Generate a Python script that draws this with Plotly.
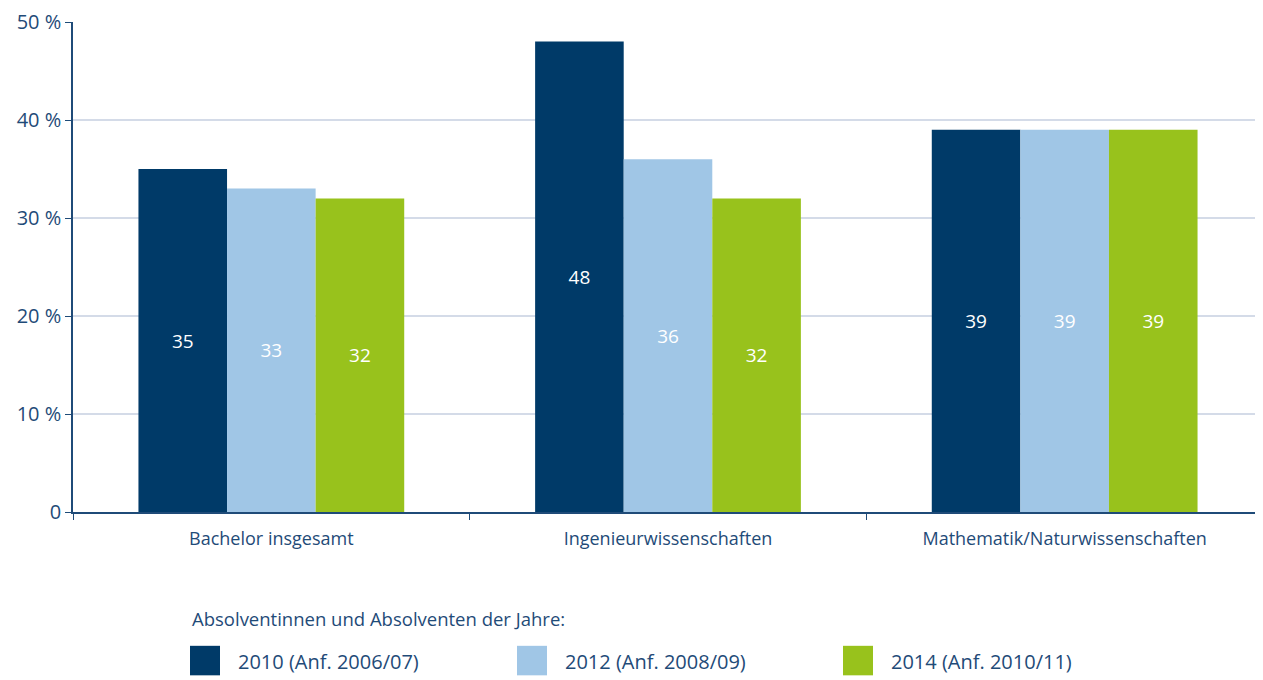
import plotly.graph_objects as go

# Anteil in %, je Fachgruppe
categories = ["Bachelor insgesamt", "Ingenieurwissenschaften", "Mathematik/Naturwissenschaften"]
series_names = ["2010 (Anf. 2006/07)", "2012 (Anf. 2008/09)", "2014 (Anf. 2010/11)"]
values_2010 = [35, 48, 39]
values_2012 = [33, 36, 39]
values_2014 = [32, 32, 39]
y_ticks = [0, 10, 20, 30, 40, 50]
y_ticklabels = ["0", "10 %", "20 %", "30 %", "40 %", "50 %"]
legend_title = "Absolventinnen und Absolventen der Jahre:"

colors = ["#003A68", "#A0C6E6", "#98C21C"]
ink = "#1F4B78"
font_family = "Open Sans, Noto Sans, sans-serif"

# page body has an 8px margin, so the figure is 8px smaller than the window
fig = go.Figure()
for name, vals, col in zip(series_names, [values_2010, values_2012, values_2014], colors):
    fig.add_trace(go.Bar(
        x=categories, y=vals, name=name,
        marker=dict(color=col, line=dict(width=0)),
        text=[str(v) for v in vals], textposition="inside",
        insidetextanchor="middle",
        textfont=dict(color="white", size=19, family=font_family),
        showlegend=False,
    ))

fig.update_layout(
    width=1255, height=672,
    margin=dict(l=65, r=0, t=6, b=168),
    barmode="group", bargap=0.33, bargroupgap=0,
    plot_bgcolor="white", paper_bgcolor="white",
    font=dict(family=font_family, color=ink, size=18),
    uniformtext=dict(mode="show", minsize=18),
)
fig.update_yaxes(
    range=[0, 50], tickvals=y_ticks, ticktext=y_ticklabels,
    showgrid=True, gridcolor="#D4DBE8", gridwidth=2,
    showline=True, linecolor=ink, linewidth=1.5,
    ticks="outside", ticklen=6, tickcolor=ink,
    tickfont=dict(size=20, color=ink), zeroline=False,
    ticklabeloverflow="allow",
)
fig.update_xaxes(
    showline=True, linecolor=ink, linewidth=1.5,
    ticks="outside", ticklen=6, tickcolor=ink, tickson="boundaries",
    tickfont=dict(size=18, color=ink), ticklabelstandoff=10,
)

# Legende als Kästchen und Text unter dem Diagramm
fig.add_annotation(
    text=legend_title, xref="paper", yref="paper",
    x=(190 - 73) / 1190, y=-(620 - 512) / 498, xanchor="left", yanchor="middle",
    showarrow=False, font=dict(size=18.5, color=ink),
)
legend_x = [190, 517, 843]
for lx, name, col in zip(legend_x, series_names, colors):
    x0 = (lx - 73) / 1190
    x1 = (lx + 30 - 73) / 1190
    y0 = -(678 - 512) / 498
    y1 = -(648 - 512) / 498
    fig.add_shape(type="rect", xref="paper", yref="paper",
                  x0=x0, x1=x1, y0=y0, y1=y1,
                  fillcolor=col, line=dict(width=0))
    fig.add_annotation(
        text=name, xref="paper", yref="paper",
        x=(lx + 46 - 73) / 1190, y=-(664 - 512) / 498,
        xanchor="left", yanchor="middle", showarrow=False,
        font=dict(size=20, color=ink),
    )

fig.write_html("out.html")
